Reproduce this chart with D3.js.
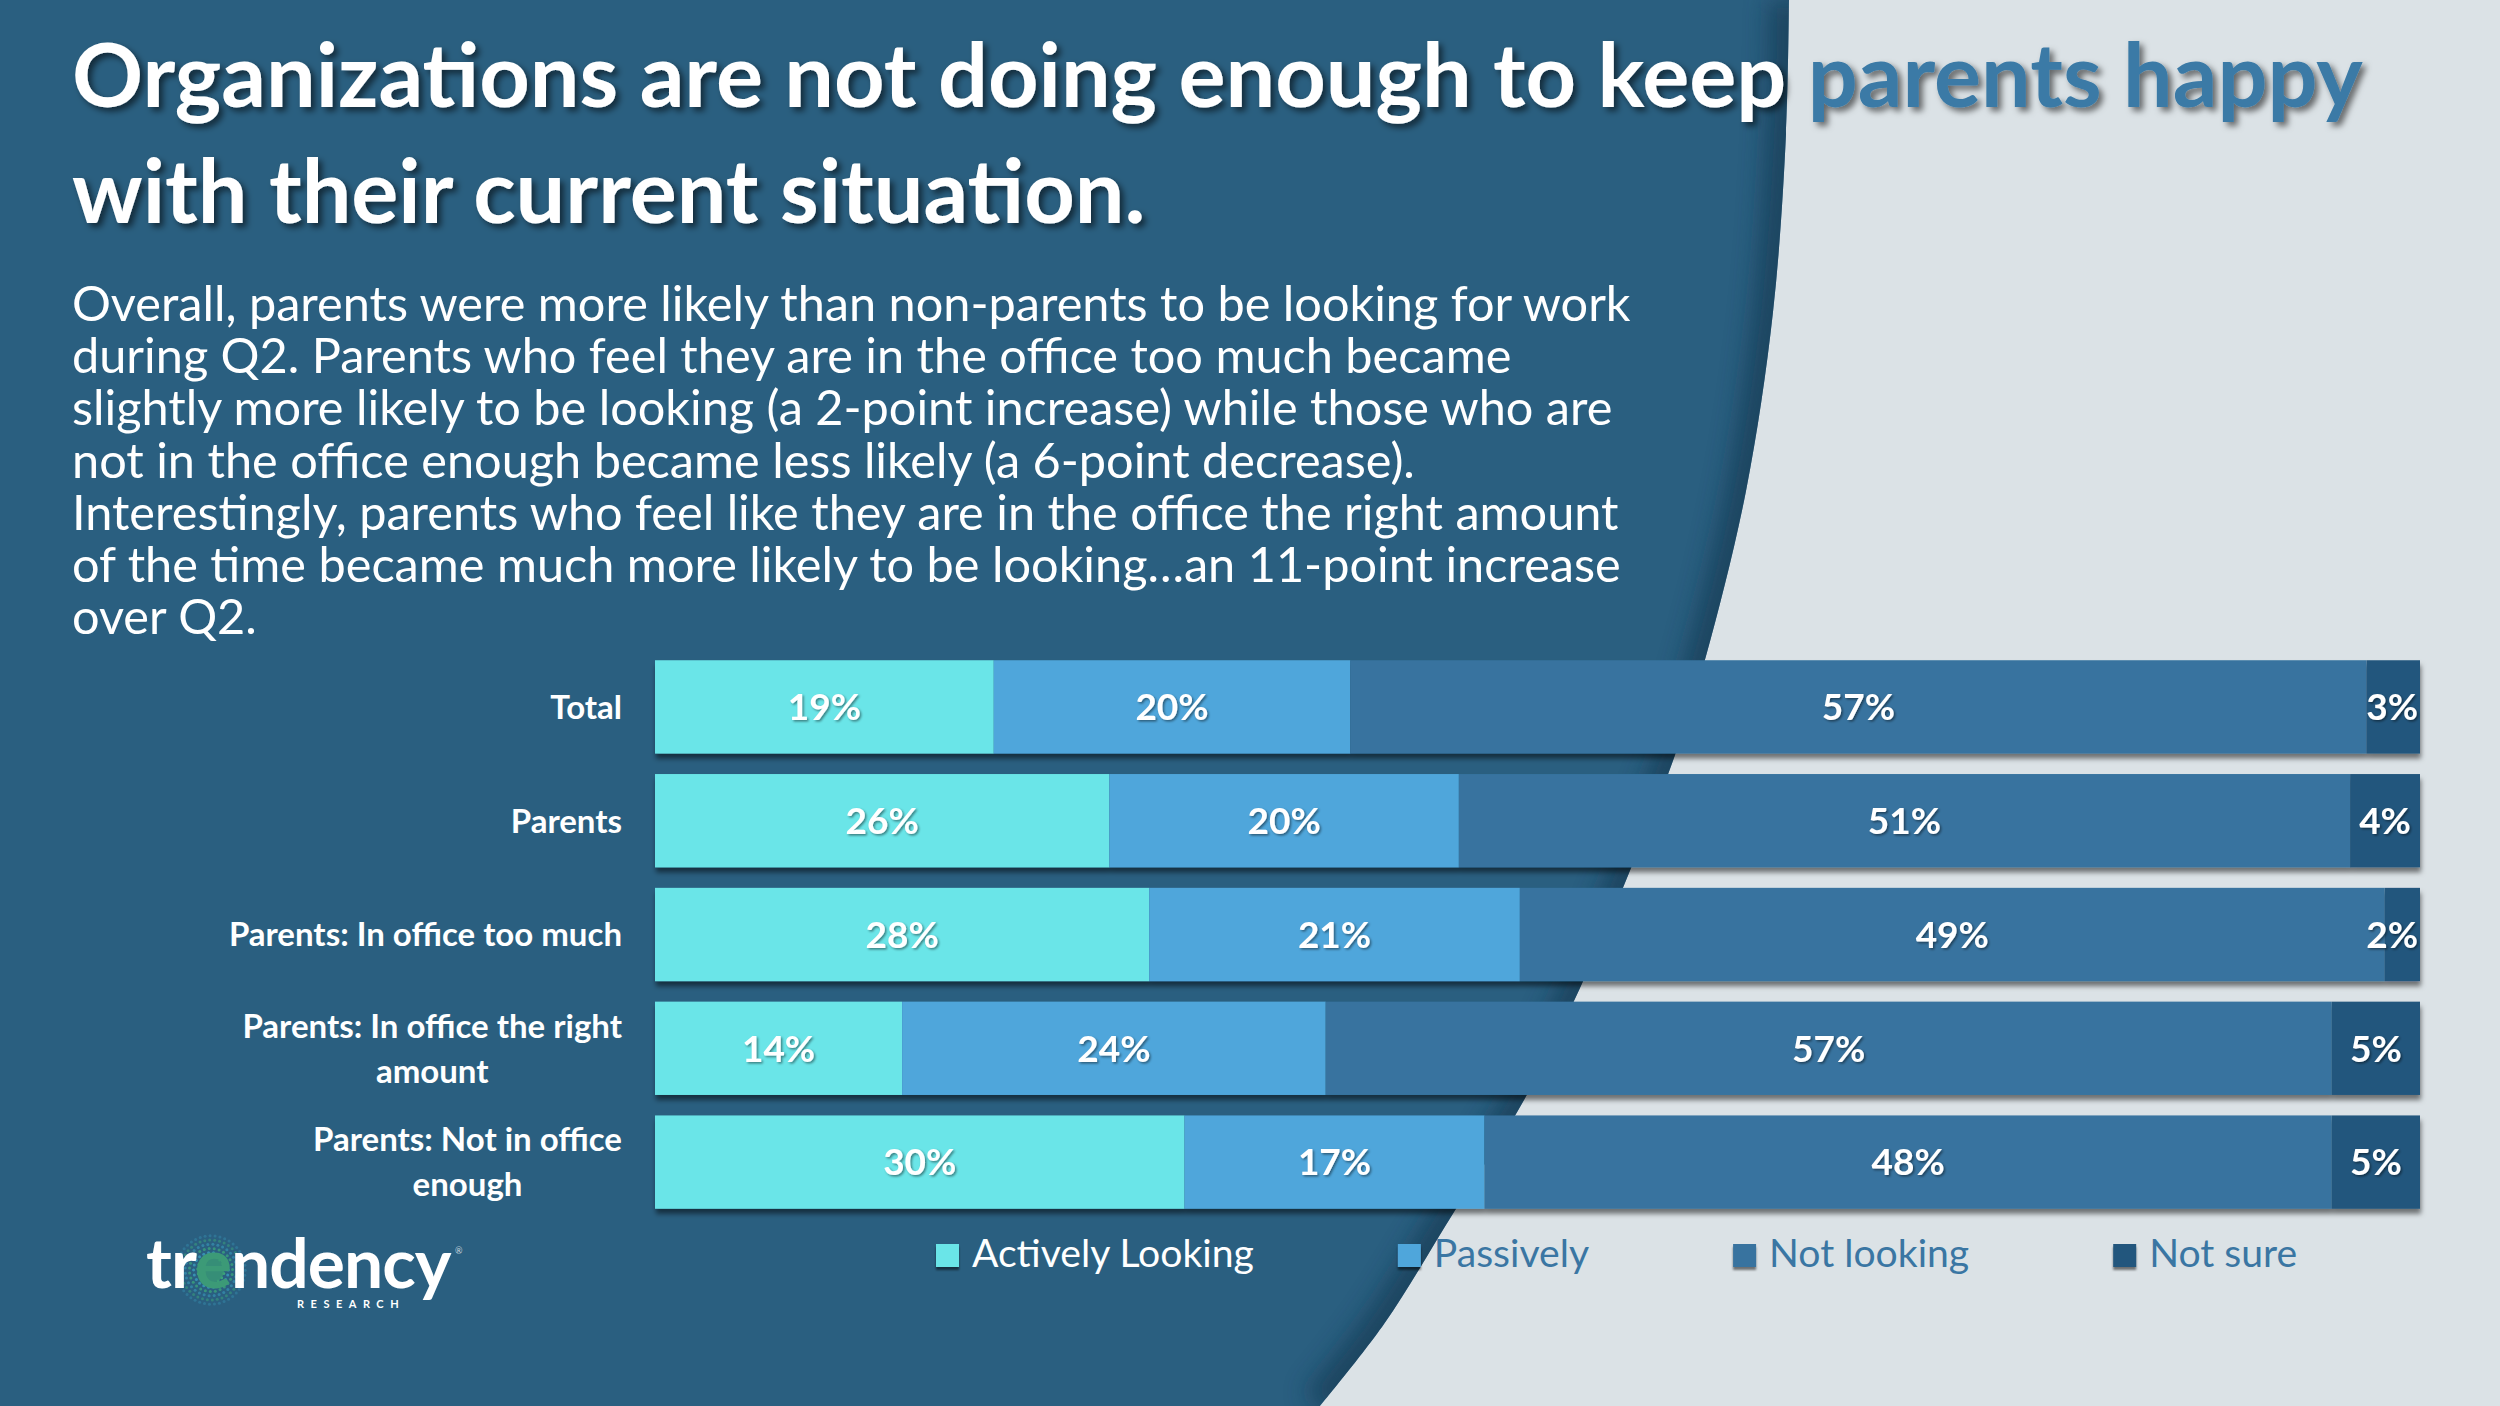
<!DOCTYPE html>
<html>
<head>
<meta charset="utf-8">
<script src="https://cdn.jsdelivr.net/npm/d3@7"></script>
<style>
  html, body { margin: 0; padding: 0; background: #dbe2e6; }
  svg { display: block; }
  text { font-family: Lato, "Open Sans", sans-serif; }
</style>
</head>
<body>
<script>
// chart data
var categories = ["Total", "Parents", "Parents: In office too much", "Parents: In office the right\namount", "Parents: Not in office\nenough"];
var seriesNames = ["Actively Looking", "Passively", "Not looking", "Not sure"];
var activelyLooking = [19, 26, 28, 14, 30];
var passively = [20, 20, 21, 24, 17];
var notLooking = [57, 51, 49, 57, 48];
var notSure = [3, 4, 2, 5, 5];

// texts
var titleStart = "Organizations are not doing enough to keep ";
var titleAccent = "parents happy";
var titleLine2 = "with their current situation.";
var bodyLines = [
  "Overall, parents were more likely than non-parents to be looking for work",
  "during Q2. Parents who feel they are in the office too much became",
  "slightly more likely to be looking (a 2-point increase) while those who are",
  "not in the office enough became less likely (a 6-point decrease).",
  "Interestingly, parents who feel like they are in the office the right amount",
  "of the time became much more likely to be looking\u2026an 11-point increase",
  "over Q2."
];

var width = 2500,
  height = 1406;

var colors = d3.scaleOrdinal()
  .domain(seriesNames)
  .range(["#6be5e8", "#4fa6db", "#37739f", "#24577d"]);

var svg = d3.select("body").append("svg")
  .attr("width", width)
  .attr("height", height);

var defs = svg.append("defs");

// drop shadow filters
function shadow(id, dx, dy, sd, op) {
  defs.append("filter").attr("id", id)
    .attr("x", "-10%").attr("y", "-20%").attr("width", "130%").attr("height", "160%")
    .append("feDropShadow")
    .attr("dx", dx).attr("dy", dy).attr("stdDeviation", sd)
    .attr("flood-color", "#000").attr("flood-opacity", op);
}
shadow("barShadow", 1, 5, 2.5, 0.5);
shadow("titleShadow", 4, 4, 3, 0.55);
shadow("labelShadow", 1.5, 1.5, 1, 0.45);
shadow("legendShadow", 0, 3, 1, 0.5);

defs.append("filter").attr("id", "blur")
  .append("feGaussianBlur").attr("stdDeviation", 12);

// background: light page with the dark curved panel on the left
svg.append("rect").attr("width", width).attr("height", height).attr("fill", "#dbe2e6");

var edge = [[1789, 0], [1786, 134], [1773, 312], [1746, 491], [1706, 656], [1675, 755],
  [1629, 873], [1580, 988], [1524, 1100], [1454, 1212], [1384, 1324], [1320, 1406]];
var edgeLine = d3.line().curve(d3.curveCatmullRom);
var panelPath = "M0,0L" + edgeLine(edge).slice(1) + "L0," + height + "Z";

defs.append("clipPath").attr("id", "panelClip")
  .append("path").attr("d", panelPath);

svg.append("path").attr("d", panelPath).attr("fill", "#2a5f80");

// shading along the curved edge
svg.append("path")
  .attr("d", edgeLine(edge))
  .attr("fill", "none")
  .attr("stroke", "#163a52")
  .attr("stroke-width", 40)
  .attr("opacity", 0.7)
  .attr("filter", "url(#blur)")
  .attr("clip-path", "url(#panelClip)");

// fit a text element to a target width
function fitWidth(sel, target) {
  var w = sel.node().getComputedTextLength();
  var fs = parseFloat(sel.style("font-size"));
  var size = fs * target / w;
  sel.style("font-size", size + "px");
  return size;
}

// title
var title1 = svg.append("text")
  .attr("x", 72).attr("y", 107)
  .style("font-size", "80px")
  .style("font-weight", 700)
  .attr("filter", "url(#titleShadow)");
title1.append("tspan").attr("fill", "#ffffff").text(titleStart);
title1.append("tspan").attr("fill", "#3b7aa6").text(titleAccent);
var titleSize = fitWidth(title1, 2291);

svg.append("text")
  .attr("x", 72).attr("y", 223)
  .style("font-size", titleSize + "px")
  .style("font-weight", 700)
  .attr("fill", "#ffffff")
  .attr("filter", "url(#titleShadow)")
  .text(titleLine2);

// body paragraph
var body = svg.append("g").attr("class", "body");
var bodyText = body.selectAll("text")
  .data(bodyLines)
  .enter().append("text")
  .attr("x", 72)
  .attr("y", function(d, i) { return 321 + i * 52.2; })
  .attr("fill", "#ffffff")
  .style("font-size", "43px")
  .text(function(d) { return d; });
var bodySize = fitWidth(d3.select(bodyText.nodes()[0]), 1559);
bodyText.style("font-size", bodySize + "px");

// stacked 100% bars
var rows = categories.map(function(c, i) {
  return {
    category: c,
    "Actively Looking": activelyLooking[i],
    "Passively": passively[i],
    "Not looking": notLooking[i],
    "Not sure": notSure[i]
  };
});

var stack = d3.stack()
  .keys(seriesNames)
  .offset(d3.stackOffsetExpand);
var series = stack(rows);

var x = d3.scaleLinear()
  .domain([0, 1])
  .range([655, 2420]);

var y = d3.scaleBand()
  .domain(categories)
  .range([650, 1219])
  .paddingInner(0.18)
  .paddingOuter(0.09);

var bars = svg.append("g").attr("filter", "url(#barShadow)");
bars.selectAll("g")
  .data(series)
  .enter().append("g")
  .attr("fill", function(d) { return colors(d.key); })
  .selectAll("rect")
  .data(function(d) { return d; })
  .enter().append("rect")
  .attr("x", function(d) { return x(d[0]); })
  .attr("y", function(d) { return y(d.data.category); })
  .attr("width", function(d) { return x(d[1]) - x(d[0]); })
  .attr("height", y.bandwidth());

// value labels, kept inside the plot on the right
var labels = svg.append("g").attr("filter", "url(#labelShadow)");
series.forEach(function(s) {
  labels.selectAll(null)
    .data(s)
    .enter().append("text")
    .attr("x", function(d) { return (x(d[0]) + x(d[1])) / 2; })
    .attr("y", function(d) { return y(d.data.category) + y.bandwidth() / 2; })
    .attr("dy", "0.36em")
    .attr("text-anchor", "middle")
    .attr("fill", "#ffffff")
    .style("font-size", "37px")
    .style("font-weight", 700)
    .text(function(d) { return d.data[s.key] + "%"; })
    .each(function() {
      var t = d3.select(this);
      var w = this.getComputedTextLength();
      var cx = +t.attr("x");
      if (cx + w / 2 > x(1) - 2) t.attr("x", x(1) - 2 - w / 2);
    });
});

// category labels (right aligned block, lines centred to each other)
var catLabels = svg.append("g");
categories.forEach(function(c) {
  var lines = c.split("\n");
  var t = catLabels.append("text")
    .attr("fill", "#ffffff")
    .style("font-size", "33px")
    .style("font-weight", 700);
  var cy = y(c) + y.bandwidth() / 2;
  var tspans = t.selectAll("tspan")
    .data(lines)
    .enter().append("tspan")
    .attr("y", function(d, i) { return cy + (i - (lines.length - 1) / 2) * 45; })
    .attr("dy", "0.36em")
    .text(function(d) { return d; });
  var maxW = d3.max(tspans.nodes(), function(n) { return n.getComputedTextLength(); });
  tspans.attr("x", 622 - maxW / 2).attr("text-anchor", "middle");
});

// legend
var legend = svg.append("g");
var lx = 936;
var legendFont = null;
seriesNames.forEach(function(name, i) {
  legend.append("rect")
    .attr("x", lx).attr("y", 1244)
    .attr("width", 23).attr("height", 23)
    .attr("fill", colors(name))
    .attr("filter", "url(#legendShadow)");
  var t = legend.append("text")
    .attr("x", lx + 36).attr("y", 1267)
    .attr("fill", i == 0 ? "#ffffff" : "#3a76a3")
    .style("font-size", "35px")
    .text(name);
  if (i == 0) legendFont = fitWidth(t, 282);
  else t.style("font-size", legendFont + "px");
  lx += 36 + t.node().getComputedTextLength() + 144;
});

// trendency logo
var logo = svg.append("g");
var halo = logo.append("g");
d3.range(1, 7).forEach(function(ring) {
  var r = 9 + ring * 4.2;
  var n = Math.round(2 * Math.PI * r / 5);
  halo.selectAll(null)
    .data(d3.range(n))
    .enter().append("circle")
    .attr("cx", function(k) { return 211 + r * Math.cos(2 * Math.PI * k / n + ring); })
    .attr("cy", function(k) { return 1270 + r * Math.sin(2 * Math.PI * k / n + ring); })
    .attr("r", 1.5)
    .attr("fill", ring % 2 ? "#3fae7c" : "#3b9fbf")
    .attr("opacity", 1 - ring * 0.11);
});
logo.append("circle")
  .attr("cx", 211).attr("cy", 1270).attr("r", 13)
  .attr("fill", "#3a9a74").attr("opacity", 0.8);

var logoText = logo.append("text")
  .attr("x", 146).attr("y", 1288)
  .attr("fill", "#ffffff")
  .style("font-size", "74px")
  .style("font-weight", 700)
  .style("letter-spacing", "-1px");
logoText.append("tspan").text("tr");
logoText.append("tspan").attr("fill", "#3c9a77").text("e");
logoText.append("tspan").text("ndency");
fitWidth(logoText, 305);

logo.append("text")
  .attr("x", 297).attr("y", 1308)
  .attr("fill", "#ffffff")
  .style("font-size", "11px")
  .style("font-weight", 700)
  .style("letter-spacing", "6.5px")
  .text("RESEARCH");

logo.append("text")
  .attr("x", 455).attr("y", 1254)
  .attr("fill", "#c9d6de")
  .style("font-size", "9px")
  .text("\u00ae");
</script>
</body>
</html>
